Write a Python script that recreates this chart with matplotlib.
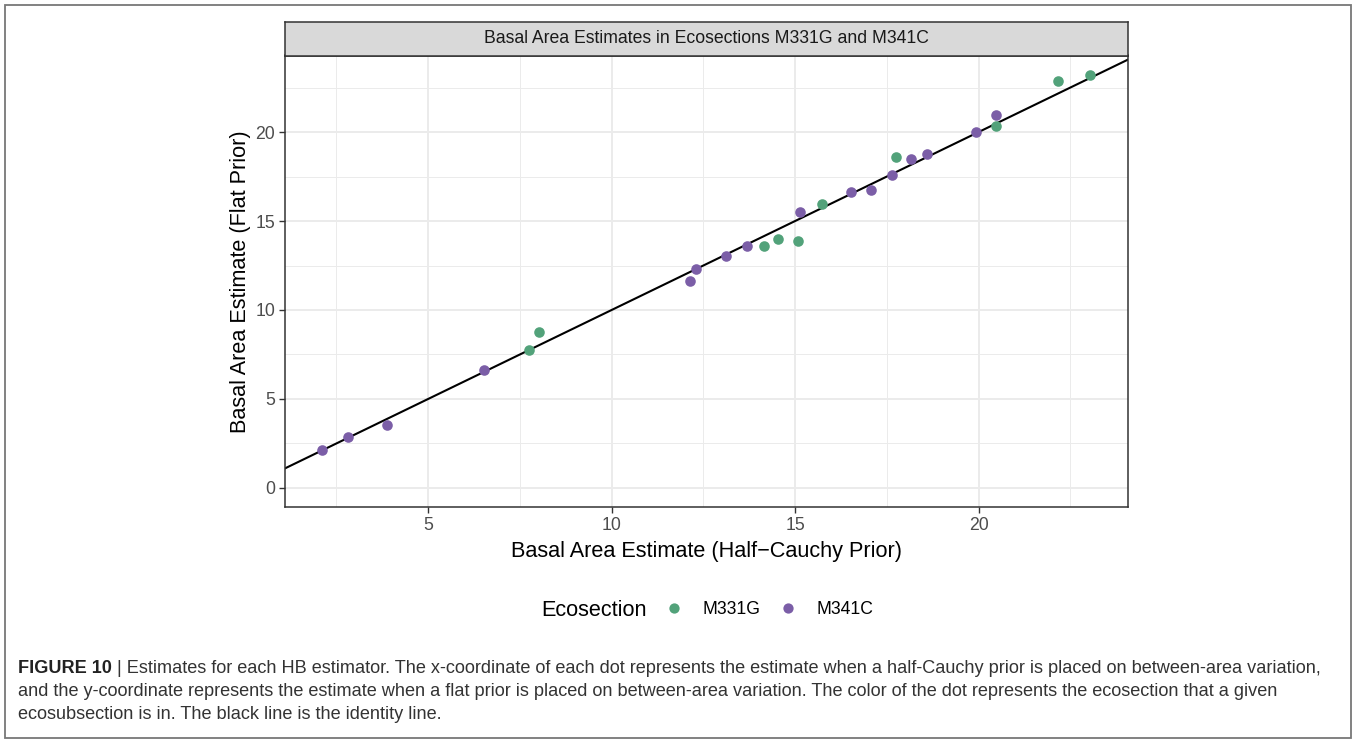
import matplotlib
matplotlib.use('Agg')
import matplotlib.pyplot as plt
from matplotlib.lines import Line2D
from matplotlib.patches import Rectangle
from matplotlib.text import Annotation
from matplotlib.ticker import MultipleLocator

plt.rcParams['font.family'] = ['Liberation Sans', 'DejaVu Sans']

# ---- data ----
series_names = ['M331G', 'M341C']
series_colors = ['#52A27A', '#7B5EA7']
m331g_x = [7.75, 8.02, 14.14, 14.54, 15.09, 15.74, 17.76, 20.46, 22.16, 23.04]
m331g_y = [7.75, 8.76, 13.61, 13.99, 13.86, 15.96, 18.61, 20.32, 22.87, 23.19]
m341c_x = [2.12, 2.83, 3.87, 6.52, 12.14, 12.30, 13.12, 13.70, 15.14, 16.53,
           17.08, 17.64, 18.15, 18.60, 19.92, 20.47]
m341c_y = [2.13, 2.87, 3.54, 6.63, 11.63, 12.29, 13.05, 13.60, 15.51, 16.61,
           16.72, 17.58, 18.51, 18.78, 20.02, 20.96]
x_ticks = [5, 10, 15, 20]
y_ticks = [0, 5, 10, 15, 20]

title = 'Basal Area Estimates in Ecosections M331G and M341C'
xlabel = 'Basal Area Estimate (Half\u2212Cauchy Prior)'
ylabel = 'Basal Area Estimate (Flat Prior)'
legend_title = 'Ecosection'
cap_bold = 'FIGURE 10'
cap_line1 = ' | Estimates for each HB estimator. The x-coordinate of each dot represents the estimate when a half-Cauchy prior is placed on between-area variation,'
cap_line2 = 'and the y-coordinate represents the estimate when a flat prior is placed on between-area variation. The color of the dot represents the ecosection that a given'
cap_line3 = 'ecosubsection is in. The black line is the identity line.'

W, H = 1354, 740
fig = plt.figure(figsize=(W / 100, H / 100), dpi=100)

def fx(px):
    return px / W

def fy(py):
    return 1 - py / H

small_fs = 12.7
big_fs = 15.6

L, R, T, B = 285, 1128, 55.5, 507
ax = fig.add_axes([fx(L), fy(B), fx(R) - fx(L), fy(T) - fy(B)])
ax.set_xlim(1.10, 24.07)
ax.set_ylim(-1.07, 24.30)
ax.xaxis.set_minor_locator(MultipleLocator(2.5))
ax.yaxis.set_minor_locator(MultipleLocator(2.5))
ax.set_xticks(x_ticks)
ax.set_yticks(y_ticks)
ax.grid(which='major', color='#EBEBEB', lw=1.4, zorder=0)
ax.grid(which='minor', color='#EBEBEB', lw=0.7, zorder=0)
ax.set_axisbelow(True)
ax.tick_params(which='minor', length=0)
ax.tick_params(which='major', length=4, width=1.0, color='#333333',
               labelsize=small_fs, labelcolor='#4D4D4D', pad=3)
for s in ax.spines.values():
    s.set_color('#333333')
    s.set_linewidth(1.1)

ax.axline((0, 0), slope=1, color='black', lw=1.5, zorder=2)
ax.scatter(m331g_x, m331g_y, s=58, color=series_colors[0], zorder=3, linewidths=0)
ax.scatter(m341c_x, m341c_y, s=58, color=series_colors[1], zorder=3, linewidths=0)

ax.set_xlabel(xlabel, fontsize=big_fs, color='black', labelpad=5)
ax.set_ylabel(ylabel, fontsize=big_fs, color='black', labelpad=3)

# strip
sax = fig.add_axes([fx(L), fy(T), fx(R) - fx(L), fy(22) - fy(T)])
sax.set_facecolor('#D9D9D9')
sax.set_xticks([])
sax.set_yticks([])
for s in sax.spines.values():
    s.set_color('#333333')
    s.set_linewidth(1.1)
sax.text(0.5, 0.5, title, ha='center', va='center', fontsize=small_fs,
         color='#1A1A1A', transform=sax.transAxes)

# legend
fig.text(fx(541), fy(610), legend_title, ha='left', va='center', fontsize=big_fs, color='black')
handles = [Line2D([], [], linestyle='none', marker='o', markersize=7.4,
                  markerfacecolor=c, markeredgewidth=0) for c in series_colors]
fig.legend(handles, series_names, loc='center left',
           bbox_to_anchor=(fx(665.2), fy(609.5)), ncol=2, frameon=False,
           fontsize=small_fs, handlelength=1.0, handletextpad=1.09,
           columnspacing=1.09, borderpad=0, borderaxespad=0)

# caption
cap_fs = 13.1
t_bold = fig.text(fx(18), fy(673), cap_bold, ha='left', va='baseline',
                  fontsize=cap_fs, fontweight='bold', color='#222222')
fig.add_artist(Annotation(cap_line1, xy=(1, 0), xycoords=t_bold, ha='left', va='bottom',
                          fontsize=cap_fs, color='#333333'))
fig.text(fx(18), fy(696), cap_line2, ha='left', va='baseline', fontsize=cap_fs, color='#333333')
fig.text(fx(18), fy(719), cap_line3, ha='left', va='baseline', fontsize=cap_fs, color='#333333')

# outer frame
fig.add_artist(Rectangle((fx(4.5), fy(737.5)), fx(1351) - fx(4.5), fy(4.5) - fy(737.5),
                         transform=fig.transFigure, fill=False,
                         edgecolor='#777777', lw=1.3))

fig.savefig('out.png', dpi=100)
